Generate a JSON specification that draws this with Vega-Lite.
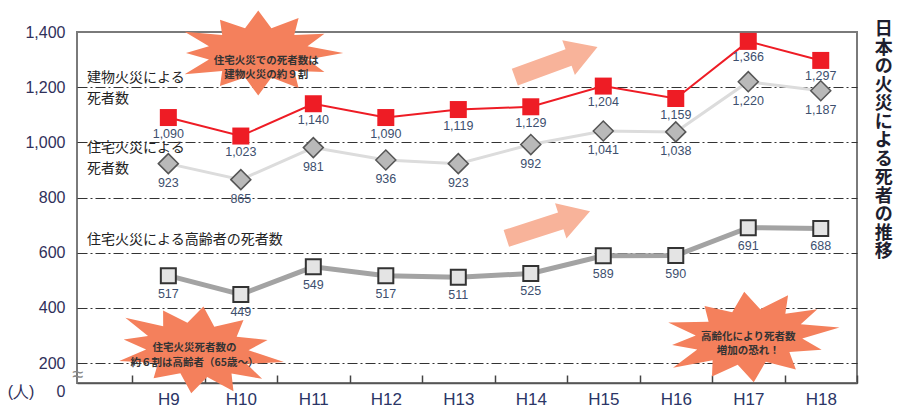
{
  "$schema": "https://vega.github.io/schema/vega-lite/v6.json",
  "width": 780,
  "height": 351,
  "autosize": {"type": "none"},
  "padding": {"left": 77, "top": 32, "right": 47, "bottom": 26},
  "background": "white",
  "config": {
    "view": {"stroke": "#7a7a7a", "strokeWidth": 2},
    "font": "Liberation Sans"
  },
  "title": {
    "text": ["日","本","の","火","災","に","よ","る","死","者","の","推","移"],
    "orient": "right",
    "angle": 0,
    "anchor": "start",
    "align": "center",
    "baseline": "top",
    "font": "Noto Sans CJK JP",
    "fontSize": 18,
    "fontWeight": "bold",
    "lineHeight": 18.5,
    "color": "#1e1e2e",
    "offset": 8,
    "dy": 11
  },
  "data": {
    "values": [
      {"year": "H9", "building": 1090, "house": 923, "elderly": 517},
      {"year": "H10", "building": 1023, "house": 865, "elderly": 449},
      {"year": "H11", "building": 1140, "house": 981, "elderly": 549},
      {"year": "H12", "building": 1090, "house": 936, "elderly": 517},
      {"year": "H13", "building": 1119, "house": 923, "elderly": 511},
      {"year": "H14", "building": 1129, "house": 992, "elderly": 525},
      {"year": "H15", "building": 1204, "house": 1041, "elderly": 589},
      {"year": "H16", "building": 1159, "house": 1038, "elderly": 590},
      {"year": "H17", "building": 1366, "house": 1220, "elderly": 691},
      {"year": "H18", "building": 1297, "house": 1187, "elderly": 688}
    ]
  },
  "encoding": {
    "x": {
      "field": "year",
      "type": "ordinal",
      "sort": null,
      "scale": {"type": "band", "paddingInner": 0, "paddingOuter": 0.38, "align": 1},
      "axis": {
        "title": null,
        "labelAngle": 0,
        "tickBand": "extent",
        "tickSize": -8,
        "tickColor": "#444",
        "tickWidth": 1.5,
        "domain": true,
        "domainColor": "#555",
        "domainWidth": 1.5,
        "labelPadding": 16,
        "labelBaseline": "top",
        "labelFontSize": 17,
        "labelColor": "#2b3566",
        "grid": false
      }
    }
  },
  "layer": [
    {
      "mark": {"type": "line", "color": "#a3a3a3", "strokeWidth": 5},
      "encoding": {
        "y": {
          "field": "elderly",
          "type": "quantitative",
          "scale": {"domain": [128, 1400], "nice": false, "zero": false},
          "axis": {
            "title": null,
            "values": [128, 200, 400, 600, 800, 1000, 1200, 1400],
            "labelExpr": "datum.value < 150 ? '(人)\u00a0\u00a0\u00a0\u00a0\u00a00' : format(datum.value, ',')",
            "grid": true,
            "gridColor": "#333",
            "gridDash": [10, 3, 2, 3],
            "gridWidth": 1.2,
            "gridOpacity": {"condition": {"test": "datum.value < 150 || datum.value > 1350", "value": 0}, "value": 1},
            "labelBaseline": {"condition": {"test": "datum.value < 150", "value": "top"}, "value": "middle"},
            "domain": false,
            "ticks": false,
            "labelPadding": 12,
            "labelFontSize": 16,
            "labelColor": "#30305a"
          }
        }
      }
    },
    {
      "mark": {"type": "line", "color": "#dcdcdc", "strokeWidth": 3},
      "encoding": {"y": {"field": "house", "type": "quantitative"}}
    },
    {
      "mark": {"type": "line", "color": "#ee1c25", "strokeWidth": 2},
      "encoding": {"y": {"field": "building", "type": "quantitative"}}
    },
    {
      "mark": {"type": "point", "shape": "square", "size": 225, "filled": true, "fill": "#e4e4e4", "stroke": "#333", "strokeWidth": 2, "opacity": 1},
      "encoding": {"y": {"field": "elderly", "type": "quantitative"}}
    },
    {
      "mark": {"type": "point", "shape": "diamond", "size": 400, "filled": true, "fill": "#b9b9b9", "stroke": "#555", "strokeWidth": 1.5, "opacity": 1},
      "encoding": {"y": {"field": "house", "type": "quantitative"}}
    },
    {
      "mark": {"type": "point", "shape": "square", "size": 289, "filled": true, "fill": "#ee1c25", "strokeWidth": 0, "opacity": 1},
      "encoding": {"y": {"field": "building", "type": "quantitative"}}
    },
    {
      "mark": {"type": "text", "dy": 18, "fontSize": 12.5, "color": "#3d4f6e", "baseline": "middle"},
      "encoding": {"y": {"field": "elderly", "type": "quantitative"}, "text": {"field": "elderly", "type": "quantitative", "format": ","}}
    },
    {
      "mark": {"type": "text", "dy": 19, "fontSize": 12.5, "color": "#3d4f6e", "baseline": "middle"},
      "encoding": {"y": {"field": "house", "type": "quantitative"}, "text": {"field": "house", "type": "quantitative", "format": ","}}
    },
    {
      "mark": {"type": "text", "dy": 16, "fontSize": 12.5, "color": "#3d4f6e", "baseline": "middle"},
      "encoding": {"y": {"field": "building", "type": "quantitative"}, "text": {"field": "building", "type": "quantitative", "format": ","}}
    },
    {
      "data": {"values": [{}]},
      "mark": {"type": "text", "font": "Noto Sans CJK JP", "fontSize": 14, "color": "#222", "align": "left", "baseline": "top", "lineHeight": 21, "dx": -45},
      "encoding": {
        "x": {"datum": "H9", "bandPosition": 0},
        "y": {"datum": 1259, "type": "quantitative"},
        "text": {"value": ["建物火災による", "死者数"]}
      }
    },
    {
      "data": {"values": [{}]},
      "mark": {"type": "text", "font": "Noto Sans CJK JP", "fontSize": 14, "color": "#222", "align": "left", "baseline": "top", "lineHeight": 21, "dx": -45},
      "encoding": {
        "x": {"datum": "H9", "bandPosition": 0},
        "y": {"datum": 1006, "type": "quantitative"},
        "text": {"value": ["住宅火災による", "死者数"]}
      }
    },
    {
      "data": {"values": [{}]},
      "mark": {"type": "text", "font": "Noto Sans CJK JP", "fontSize": 14, "color": "#222", "align": "left", "baseline": "top", "dx": -45},
      "encoding": {
        "x": {"datum": "H9", "bandPosition": 0},
        "y": {"datum": 672, "type": "quantitative"},
        "text": {"value": "住宅火災による高齢者の死者数"}
      }
    },
    {
      "data": {"values": [{}]},
      "mark": {"type": "text", "fontSize": 20, "color": "#888", "align": "center", "baseline": "middle", "dx": -54},
      "encoding": {
        "x": {"datum": "H9", "bandPosition": 0},
        "y": {"datum": 157, "type": "quantitative"},
        "text": {"value": "≈"}
      }
    },
    {
      "data": {"values": [{}]},
      "mark": {"type": "point", "shape": "M1,0L0.58,0.078L0.779,0.225L0.424,0.212L0.475,0.411L0.155,0.29L0,0.5L-0.155,0.29L-0.45,0.39L-0.424,0.212L-0.866,0.25L-0.58,0.078L-0.85,0L-0.58,-0.078L-0.866,-0.25L-0.424,-0.212L-0.45,-0.39L-0.155,-0.29L0,-0.5L0.155,-0.29L0.475,-0.411L0.424,-0.212L0.779,-0.225L0.58,-0.078Z", "size": 28900, "filled": true, "fill": "#f4805c", "strokeWidth": 0, "opacity": 1},
      "encoding": {
        "x": {"datum": "H10", "bandPosition": 0.74},
        "y": {"datum": 1324, "type": "quantitative"}
      }
    },
    {
      "data": {"values": [{}]},
      "mark": {"type": "point", "shape": "M1,0L0.58,0.078L0.779,0.225L0.424,0.212L0.475,0.411L0.155,0.29L0,0.5L-0.155,0.29L-0.45,0.39L-0.424,0.212L-0.866,0.25L-0.58,0.078L-0.85,0L-0.58,-0.078L-0.866,-0.25L-0.424,-0.212L-0.45,-0.39L-0.155,-0.29L0,-0.5L0.155,-0.29L0.475,-0.411L0.424,-0.212L0.779,-0.225L0.58,-0.078Z", "size": 30625, "angle": 8, "filled": true, "fill": "#f4805c", "strokeWidth": 0, "opacity": 1},
      "encoding": {
        "x": {"datum": "H9", "bandPosition": 0.9},
        "y": {"datum": 248, "type": "quantitative"}
      }
    },
    {
      "data": {"values": [{}]},
      "mark": {"type": "point", "shape": "M1,0L0.58,0.078L0.779,0.225L0.424,0.212L0.475,0.411L0.155,0.29L0,0.5L-0.155,0.29L-0.45,0.39L-0.424,0.212L-0.866,0.25L-0.58,0.078L-0.85,0L-0.58,-0.078L-0.866,-0.25L-0.424,-0.212L-0.45,-0.39L-0.155,-0.29L0,-0.5L0.155,-0.29L0.475,-0.411L0.424,-0.212L0.779,-0.225L0.58,-0.078Z", "size": 33124, "angle": -6, "filled": true, "fill": "#f4805c", "strokeWidth": 0, "opacity": 1},
      "encoding": {
        "x": {"datum": "H17", "bandPosition": 0.51},
        "y": {"datum": 295, "type": "quantitative"}
      }
    },
    {
      "data": {"values": [{}]},
      "mark": {"type": "text", "font": "Noto Sans CJK JP", "fontSize": 10.5, "fontWeight": "bold", "color": "#333", "align": "center", "baseline": "middle", "lineHeight": 14},
      "encoding": {
        "x": {"datum": "H10", "bandPosition": 0.85},
        "y": {"datum": 1295, "type": "quantitative"},
        "text": {"value": ["住宅火災での死者数は", "建物火災の約９割"]}
      }
    },
    {
      "data": {"values": [{}]},
      "mark": {"type": "text", "font": "Noto Sans CJK JP", "fontSize": 10.5, "fontWeight": "bold", "color": "#333", "align": "center", "baseline": "middle", "lineHeight": 15},
      "encoding": {
        "x": {"datum": "H9", "bandPosition": 0.86},
        "y": {"datum": 255, "type": "quantitative"},
        "text": {"value": ["住宅火災死者数の", "約６割は高齢者（65歳～）"]}
      }
    },
    {
      "data": {"values": [{}]},
      "mark": {"type": "text", "font": "Noto Sans CJK JP", "fontSize": 10.5, "fontWeight": "bold", "color": "#333", "align": "center", "baseline": "middle", "lineHeight": 14},
      "encoding": {
        "x": {"datum": "H17", "bandPosition": 0.5},
        "y": {"datum": 295, "type": "quantitative"},
        "text": {"value": ["高齢化により死者数", "増加の恐れ！"]}
      }
    },
    {
      "data": {"values": [{}]},
      "mark": {"type": "point", "shape": "M-1,-0.2L0.3,-0.2L0.3,-0.42L1,0L0.3,0.42L0.3,0.2L-1,0.2Z", "size": 7744, "angle": -20, "filled": true, "fill": "#f8b39a", "strokeWidth": 0, "opacity": 1},
      "encoding": {
        "x": {"datum": "H14", "bandPosition": 0.85},
        "y": {"datum": 1291, "type": "quantitative"}
      }
    },
    {
      "data": {"values": [{}]},
      "mark": {"type": "point", "shape": "M-1,-0.2L0.3,-0.2L0.3,-0.42L1,0L0.3,0.42L0.3,0.2L-1,0.2Z", "size": 7744, "angle": -18, "filled": true, "fill": "#f8b39a", "strokeWidth": 0, "opacity": 1},
      "encoding": {
        "x": {"datum": "H14", "bandPosition": 0.74},
        "y": {"datum": 701, "type": "quantitative"}
      }
    }
  ]
}
